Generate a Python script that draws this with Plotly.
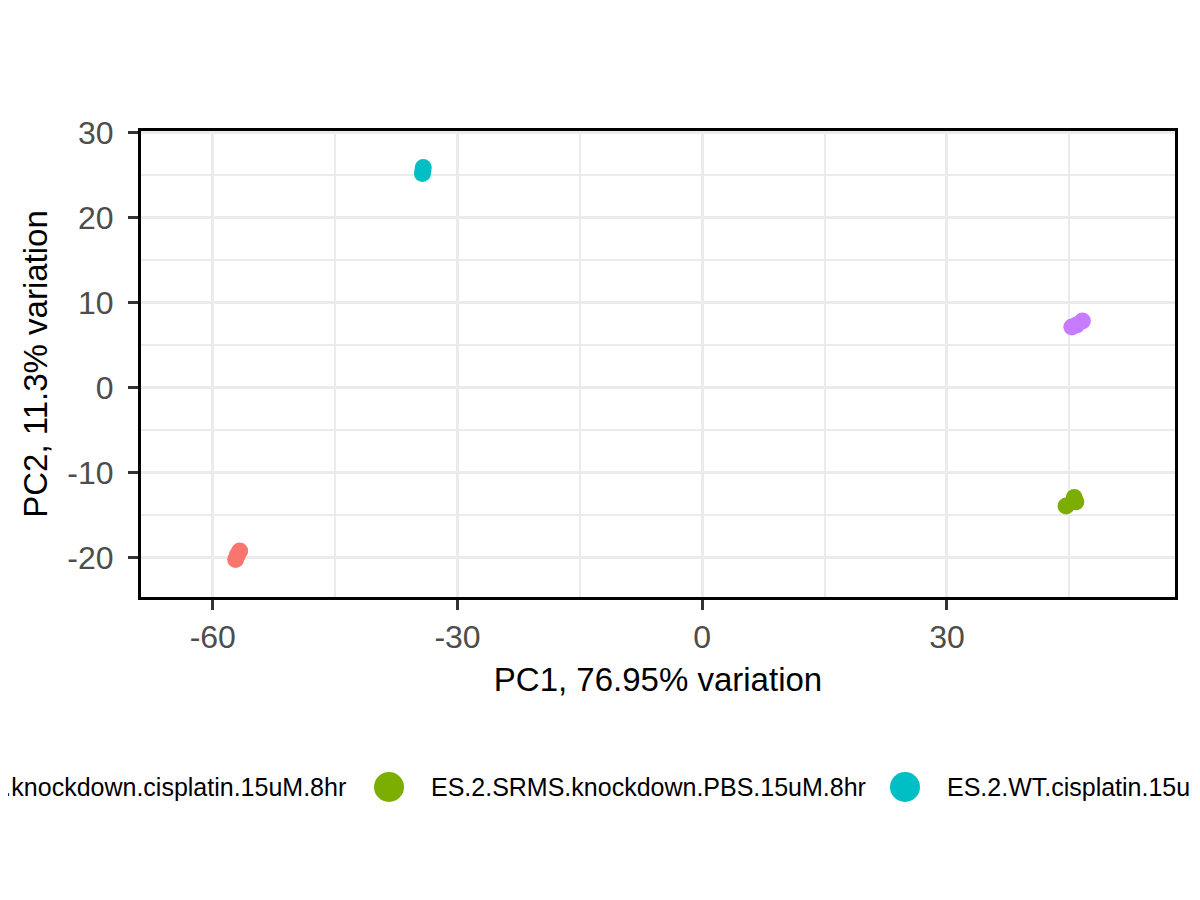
import plotly.graph_objects as go

# ---- data ----
groups = [
    "ES.2.SRMS.knockdown.cisplatin.15uM.8hr",
    "ES.2.SRMS.knockdown.PBS.15uM.8hr",
    "ES.2.WT.cisplatin.15uM.8hr",
    "ES.2.WT.PBS.15uM.8hr",
]
colors = ["#F8766D", "#7CAE00", "#00BFC4", "#C77CFF"]

pc1_kd_cis = [-56.7, -57.2, -57.0]
pc2_kd_cis = [-19.2, -20.2, -19.7]
pc1_kd_pbs = [45.6, 44.6, 45.8]
pc2_kd_pbs = [-12.9, -13.9, -13.4]
pc1_wt_cis = [-34.2, -34.3, -34.25]
pc2_wt_cis = [25.9, 25.2, 25.5]
pc1_wt_pbs = [46.6, 45.3, 45.9]
pc2_wt_pbs = [7.85, 7.15, 7.4]

xs = [pc1_kd_cis, pc1_kd_pbs, pc1_wt_cis, pc1_wt_pbs]
ys = [pc2_kd_cis, pc2_kd_pbs, pc2_wt_cis, pc2_wt_pbs]

x_ticks = [-60, -30, 0, 30]
y_ticks = [-20, -10, 0, 10, 20, 30]
x_title = "PC1, 76.95% variation"
y_title = "PC2, 11.3% variation"

FONT = "Liberation Sans"

fig = go.Figure()
for name, c, x, y in zip(groups, colors, xs, ys):
    fig.add_trace(go.Scatter(x=x, y=y, mode="markers", name=name,
                             marker=dict(color=c, size=17, line=dict(width=0)),
                             showlegend=False))

# page offset of the figure (browser body margin)
OFF = 8
W, H = 1200, 900
L = 141 - OFF
T = 131 - OFF
R = W - (1175 - OFF)
B = H - (597 - OFF)
pw = W - L - R
ph = H - T - B

def px2paper_x(px):
    return (px - OFF - L) / pw

def px2paper_y(py):
    return (H - B - (py - OFF)) / ph

axis_common = dict(
    showline=True, linecolor="black", linewidth=3, mirror=True,
    ticks="outside", ticklen=10, tickwidth=3, tickcolor="#333333",
    tickfont=dict(family=FONT, size=32, color="#4D4D4D"),
    showgrid=True, gridcolor="#EBEBEB", gridwidth=3,
    zeroline=False,
)

fig.update_xaxes(range=[-68.8, 57.95], tickvals=x_ticks,
                 ticktext=[str(v) for v in x_ticks],
                 minor=dict(dtick=15, tick0=-60, showgrid=True, gridcolor="#EBEBEB", gridwidth=1.5, ticks=""),
                 title=dict(text=x_title, font=dict(family=FONT, size=33, color="black"), standoff=14),
                 **axis_common)
fig.update_yaxes(range=[-24.6, 30.2], tickvals=y_ticks,
                 ticktext=[str(v) for v in y_ticks],
                 ticklabelstandoff=8,
                 minor=dict(dtick=5, tick0=0, showgrid=True, gridcolor="#EBEBEB", gridwidth=1.5, ticks=""),
                 title=dict(text=y_title, font=dict(family=FONT, size=33, color="black"), standoff=10),
                 **axis_common)

# ---- legend drawn manually (horizontal, centred, overflowing the page like the reference) ----
leg_y = px2paper_y(787)
shapes = []
annotations = []
item_circle_px = [None, 389, 905, None]
text_starts = [None, 429, 945, None]
annotations.append(dict(x=px2paper_x(348), y=leg_y, xref="paper", yref="paper",
                        text=groups[0], showarrow=False, xanchor="right", yanchor="middle",
                        font=dict(family=FONT, size=25, color="black")))
for i in (1, 2):
    annotations.append(dict(x=px2paper_x(text_starts[i]), y=leg_y, xref="paper", yref="paper",
                            text=groups[i], showarrow=False, xanchor="left", yanchor="middle",
                            font=dict(family=FONT, size=25, color="black")))
for i in (1, 2):
    cx = px2paper_x(item_circle_px[i])
    shapes.append(dict(type="circle", xref="paper", yref="paper",
                       xsizemode="pixel", ysizemode="pixel",
                       xanchor=cx, yanchor=leg_y, x0=-15, x1=15, y0=-15, y1=15,
                       fillcolor=colors[i], line=dict(width=0)))

fig.update_layout(
    width=W, height=H,
    margin=dict(l=L, r=R, t=T, b=B, autoexpand=False),
    plot_bgcolor="white", paper_bgcolor="white",
    font=dict(family=FONT),
    showlegend=False,
    shapes=shapes, annotations=annotations,
)

fig.write_html("out.html")
